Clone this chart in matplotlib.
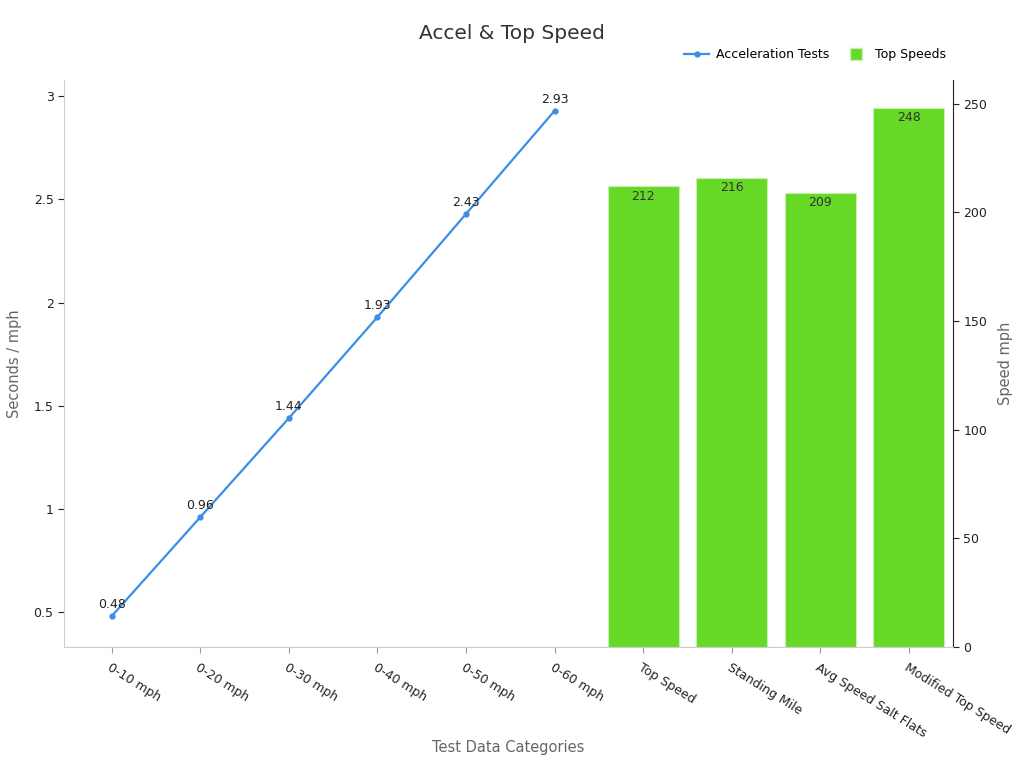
import numpy as np
import matplotlib.pyplot as plt
from matplotlib.ticker import FuncFormatter
from matplotlib.lines import Line2D

# Dados
categorias = ['0-10 mph', '0-20 mph', '0-30 mph', '0-40 mph', '0-50 mph', '0-60 mph',
              'Top Speed', 'Standing Mile', 'Avg Speed Salt Flats', 'Modified Top Speed']
tempos_acel = [0.48, 0.96, 1.44, 1.93, 2.43, 2.93]
velocidades_max = [212, 216, 209, 248]

x = np.arange(len(categorias))
x_acel = x[:len(tempos_acel)]
x_vel = x[len(tempos_acel):]

fig = plt.figure(figsize=(10.24, 7.68), dpi=100)
ax = fig.add_axes([0.0625, 0.1576, 0.8682, 0.7384])
ax2 = ax.twinx()
ax.set_zorder(ax2.get_zorder() + 1)
ax.patch.set_visible(False)

cor_linha = '#3a8ee6'
cor_barra = '#66d926'

ax2.bar(x_vel, velocidades_max, width=0.8, color=cor_barra,
        edgecolor='#c8f0b0', linewidth=0.8)
for xi, v in zip(x_vel, velocidades_max):
    ax2.text(xi, v - 1.5, str(v), ha='center', va='top', fontsize=9, color='#333333')

linha, = ax.plot(x_acel, tempos_acel, color=cor_linha, linewidth=1.6, marker='o',
                 markersize=3.5, label='Acceleration Tests')
for xi, t in zip(x_acel, tempos_acel):
    ax.text(xi, t + 0.025, f'{t:.2f}', ha='center', va='bottom', fontsize=9, color='#222222')

ax.set_xlim(-0.54, 9.5)
ax.set_ylim(0.33, 3.08)
ax2.set_ylim(0, 261)

ax.set_xticks(x)
ax.set_xticklabels(categorias, rotation=-32, ha='left', rotation_mode='anchor', fontsize=9,
                   color='#222222')
ax.set_yticks([0.5, 1, 1.5, 2, 2.5, 3])
ax.yaxis.set_major_formatter(FuncFormatter(lambda v, p: f'{v:g}'))
ax.tick_params(axis='y', labelsize=9, colors='#222222', length=4)
ax.tick_params(axis='x', length=4, color='#999999', pad=6)
ax2.set_yticks([0, 50, 100, 150, 200, 250])
ax2.tick_params(axis='y', labelsize=9, colors='#222222', length=4)
for t in ax.get_yticklines():
    t.set_color('#888888')
for t in ax2.get_yticklines():
    t.set_color('#888888')

ax.spines['top'].set_visible(False)
ax2.spines['top'].set_visible(False)
ax.spines['right'].set_visible(False)
ax.spines['left'].set_color('#cccccc')
ax.spines['bottom'].set_color('#cccccc')
ax2.spines['left'].set_visible(False)
ax2.spines['bottom'].set_visible(False)
ax2.spines['right'].set_color('#222222')

ax.set_xlabel('Test Data Categories', fontsize=10.5, color='#666666', labelpad=0)
ax.set_ylabel('Seconds / mph', fontsize=10.5, color='#666666', labelpad=8)
ax2.set_ylabel('Speed mph', fontsize=10.5, color='#666666', labelpad=8)

fig.suptitle('Accel & Top Speed', fontsize=14.5, color='#333333', y=0.969)
proxy_barra = Line2D([], [], linestyle='none', marker='s', markersize=9,
                     color=cor_barra, markeredgecolor='#c8f0b0', label='Top Speeds')
fig.legend(handles=[linha, proxy_barra], loc='center right', bbox_to_anchor=(0.935, 0.929),
           ncol=2, frameon=False, fontsize=9, handlelength=2.0, handletextpad=0.5,
           columnspacing=1.2)

fig.savefig('out.png', dpi=100)
